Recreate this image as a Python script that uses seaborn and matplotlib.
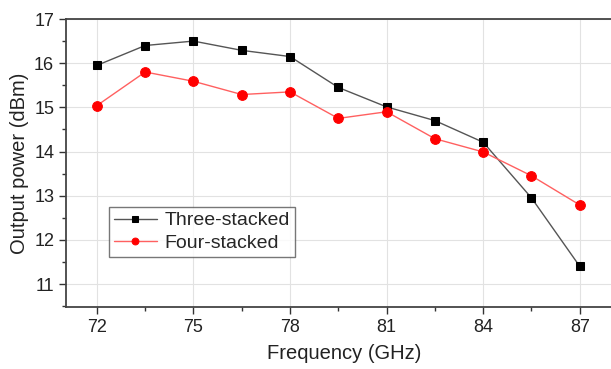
import matplotlib
matplotlib.use("Agg")
import matplotlib.pyplot as plt
import seaborn as sns
import pandas as pd
from matplotlib.ticker import MultipleLocator

freq = [72, 73.5, 75, 76.5, 78, 79.5, 81, 82.5, 84, 85.5, 87]
three_stacked = [15.95, 16.40, 16.50, 16.29, 16.15, 15.45, 15.01, 14.70, 14.21, 12.95, 11.40]
four_stacked = [15.04, 15.80, 15.59, 15.29, 15.35, 14.75, 14.90, 14.29, 13.99, 13.45, 12.79]
xticks = [72, 75, 78, 81, 84, 87]
yticks = [11, 12, 13, 14, 15, 16, 17]

sns.set_theme(style="white")
plt.rcParams['font.family'] = ['Liberation Sans', 'DejaVu Sans']

df3 = pd.DataFrame({"Frequency": freq, "Power": three_stacked})
df4 = pd.DataFrame({"Frequency": freq, "Power": four_stacked})

fig = plt.figure(figsize=(6.11, 3.69), dpi=100)
ax = fig.add_axes([66/611, 1-307/369, 1.0 - 66/611 + 0.02, (307-19)/369])

sns.lineplot(data=df3, x="Frequency", y="Power", ax=ax, color="#555555", lw=1.0,
             marker="s", markersize=6, markerfacecolor="black", markeredgecolor="black",
             label="Three-stacked")
sns.lineplot(data=df4, x="Frequency", y="Power", ax=ax, color="#ff6060", lw=1.0,
             marker="o", markersize=7, markerfacecolor="red", markeredgecolor="red",
             label="Four-stacked")

ax.set_xlim(71.04, 88.35)
ax.set_ylim(10.48, 17)
ax.set_xticks(xticks)
ax.set_yticks(yticks)
ax.xaxis.set_minor_locator(MultipleLocator(1.5))
ax.yaxis.set_minor_locator(MultipleLocator(0.5))
ax.grid(True, which="major", color="#e2e2e2", lw=0.8)
ax.set_axisbelow(True)
ax.tick_params(axis="both", which="major", direction="out", length=5, width=1,
               colors="#333333", labelsize=13, labelcolor="#222222", bottom=True, left=True)
ax.tick_params(axis="both", which="minor", direction="out", length=3, width=1,
               colors="#333333", bottom=True, left=True)
for s in ["left", "bottom", "top"]:
    ax.spines[s].set_color("#444444")
    ax.spines[s].set_linewidth(1.3)
ax.spines["right"].set_visible(False)

ax.set_xlabel("Frequency (GHz)", fontsize=14.5, color="#222222", labelpad=6)
ax.set_ylabel("Output power (dBm)", fontsize=14.5, color="#222222", labelpad=4)

leg = ax.legend(loc="upper left", bbox_to_anchor=((109-66)/(611*ax.get_position().width), (307-207)/288),
                fontsize=14, frameon=True, fancybox=False, handlelength=2.2,
                markerscale=0.7, borderpad=0.25, labelspacing=0.25, handletextpad=0.4,
                borderaxespad=0)
leg.get_frame().set_edgecolor("#555555")
leg.get_frame().set_linewidth(1.0)

fig.savefig("out.png", dpi=100)
